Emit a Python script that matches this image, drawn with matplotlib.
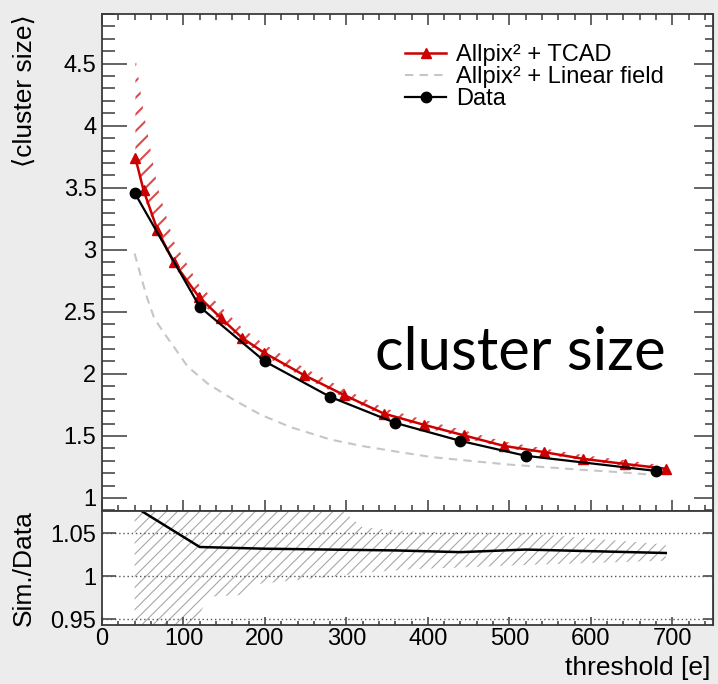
import matplotlib
matplotlib.use("Agg")
import matplotlib.pyplot as plt
from matplotlib.ticker import MultipleLocator, FuncFormatter

# ── Data ──────────────────────────────────────────────────────────────────
data_x = [40, 120, 200, 280, 360, 440, 520, 680]
data_y = [3.46, 2.54, 2.10, 1.815, 1.605, 1.46, 1.34, 1.218]

tcad_x = [41, 51, 68, 88, 119, 146, 172, 199, 248, 297, 346, 395, 444, 493,
          542, 591, 642, 692]
tcad_y = [3.74, 3.48, 3.16, 2.90, 2.62, 2.45, 2.29, 2.17, 1.99, 1.83, 1.68,
          1.59, 1.505, 1.42, 1.37, 1.315, 1.274, 1.236]
tcad_err_up = [0.81, 0.63, 0.35, 0.17, 0.10, 0.09, 0.08, 0.07, 0.06, 0.05,
               0.045, 0.04, 0.04, 0.035, 0.03, 0.03, 0.03, 0.025]
tcad_err_dn = [0.04, 0.04, 0.035, 0.03, 0.03, 0.03, 0.025, 0.025, 0.02, 0.02,
               0.02, 0.02, 0.02, 0.015, 0.015, 0.015, 0.015, 0.015]

lin_x = [40, 48, 56, 64, 76, 88, 105, 130, 162, 195, 232, 281, 318, 360,
         404, 450, 498, 540, 591, 630, 670]
lin_y = [2.97, 2.78, 2.60, 2.45, 2.33, 2.22, 2.06, 1.92, 1.79, 1.67, 1.57,
         1.47, 1.42, 1.375, 1.33, 1.30, 1.27, 1.25, 1.226, 1.21, 1.19]

ratio_x = [40, 120, 200, 280, 360, 440, 520, 692]
ratio_y = [1.081, 1.034, 1.032, 1.031, 1.030, 1.028, 1.031, 1.027]

band_x = [40, 110, 130, 172, 182, 290, 320, 380, 520, 692]
band_lo = [0.90, 0.935, 0.976, 0.978, 0.99, 1.0, 1.004, 1.008, 1.013, 1.018]
band_hi = [1.15, 1.13, 1.12, 1.11, 1.10, 1.08, 1.057, 1.052, 1.05, 1.037]

# ── Style ─────────────────────────────────────────────────────────────────
BG = "#ececec"
RED = "#cc0000"
FRAME = "#3a3a3a"
plt.rcParams["font.family"] = ["Liberation Sans", "DejaVu Sans"]

W, H = 718, 684
fig = plt.figure(figsize=(W / 100, H / 100), dpi=100, facecolor=BG)
ax = fig.add_axes([102 / W, 1 - 511 / H, 611 / W, 497 / H])
rax = fig.add_axes([102 / W, 1 - 625 / H, 611 / W, 114 / H], sharex=ax)

# ── Main panel ────────────────────────────────────────────────────────────
lo = [y - e for y, e in zip(tcad_y, tcad_err_dn)]
hi = [y + e for y, e in zip(tcad_y, tcad_err_up)]
with plt.rc_context({"hatch.linewidth": 1.5}):
    ax.fill_between(tcad_x, lo, hi, facecolor="none", edgecolor=RED,
                    hatch="//", linewidth=0, alpha=0.7)

ax.plot(lin_x, lin_y, ls=(0, (4, 3)), color="#c6c6c6", lw=1.5,
        label="Allpix² + Linear field")
ax.plot(tcad_x, tcad_y, color=RED, lw=1.8, marker="^", ms=7,
        label="Allpix² + TCAD")
ax.plot(data_x, data_y, color="black", lw=1.6, marker="o", ms=7.5,
        label="Data")

ax.set_xlim(0, 750)
ax.set_ylim(0.895, 4.9)
ax.yaxis.set_major_locator(MultipleLocator(0.5))
ax.yaxis.set_minor_locator(MultipleLocator(0.1))
ax.xaxis.set_major_locator(MultipleLocator(100))
ax.xaxis.set_minor_locator(MultipleLocator(20))
ax.yaxis.set_major_formatter(FuncFormatter(lambda v, p: f"{v:g}"))

ax.tick_params(axis="y", which="major", direction="in", length=18,
               width=1.1, color=FRAME, labelsize=17, pad=4)
ax.tick_params(axis="y", which="minor", direction="in", length=9,
               width=1.1, color=FRAME)
ax.tick_params(axis="x", which="major", direction="in", length=8,
               width=1.1, color=FRAME, top=True, labelbottom=False)
ax.tick_params(axis="x", which="minor", direction="in", length=4,
               width=1.1, color=FRAME, top=True)

sec = ax.secondary_yaxis("right")
sec.yaxis.set_major_locator(MultipleLocator(0.5))
sec.yaxis.set_minor_locator(MultipleLocator(0.1))
sec.tick_params(which="major", direction="in", length=14, width=1.1,
                color=FRAME, labelright=False)
sec.tick_params(which="minor", direction="in", length=6, width=1.1,
                color=FRAME)
sec.spines["right"].set_color(FRAME)

for a in (ax, rax):
    for s in a.spines.values():
        s.set_color(FRAME)
        s.set_linewidth(1.3)

handles, labels = ax.get_legend_handles_labels()
order = [1, 0, 2]
ax.legend([handles[i] for i in order], [labels[i] for i in order],
          loc="upper left", bbox_to_anchor=(405 / W, 1 - 44 / H),
          bbox_transform=fig.transFigure, frameon=False, fontsize=17,
          handlelength=1.75, handletextpad=0.4, labelspacing=0.0,
          borderpad=0, borderaxespad=0)

# ── Ratio panel ───────────────────────────────────────────────────────────
with plt.rc_context({"hatch.linewidth": 0.8}):
    rax.fill_between(band_x, band_lo, band_hi, facecolor="none",
                     edgecolor="#a8a8a8", hatch="///", linewidth=0)
for yv in (0.95, 1.0, 1.05):
    rax.axhline(yv, color="#555555", lw=1.0, ls=(0, (1, 2)))
rax.plot(ratio_x, ratio_y, color="black", lw=1.8)

rax.set_ylim(0.943, 1.076)
rax.set_yticks([0.95, 1.0, 1.05])
rax.set_yticklabels(["0.95", "1", "1.05"])
rax.tick_params(axis="y", direction="in", length=10, width=1.1,
                color=FRAME, labelsize=17, pad=4)
rax.tick_params(axis="x", which="major", direction="in", length=6,
                width=1.1, color=FRAME, labelsize=17, pad=2)
rax.tick_params(axis="x", which="minor", direction="in", length=3,
                width=1.1, color=FRAME)
rsec = rax.secondary_yaxis("right")
rsec.set_yticks([0.95, 1.0, 1.05])
rsec.tick_params(direction="in", length=7, width=1.1, color=FRAME,
                 labelright=False)
rsec.spines["right"].set_color(FRAME)

# ── Titles / annotation ───────────────────────────────────────────────────
fig.text(25 / W, 1 - 14 / H, "⟨cluster size⟩", rotation=90, ha="center",
         va="top", fontsize=19)
fig.text(24 / W, 1 - 568 / H, "Sim./Data", rotation=90, ha="center",
         va="center", fontsize=19)
fig.text(710 / W, 1 - 668 / H, "threshold [e]", ha="right", va="center",
         fontsize=19)
fig.text(375 / W, 1 - 370 / H, "cluster size", ha="left", va="baseline",
         fontsize=43, family="Lato")

fig.savefig("out.png", dpi=100, facecolor=BG)
